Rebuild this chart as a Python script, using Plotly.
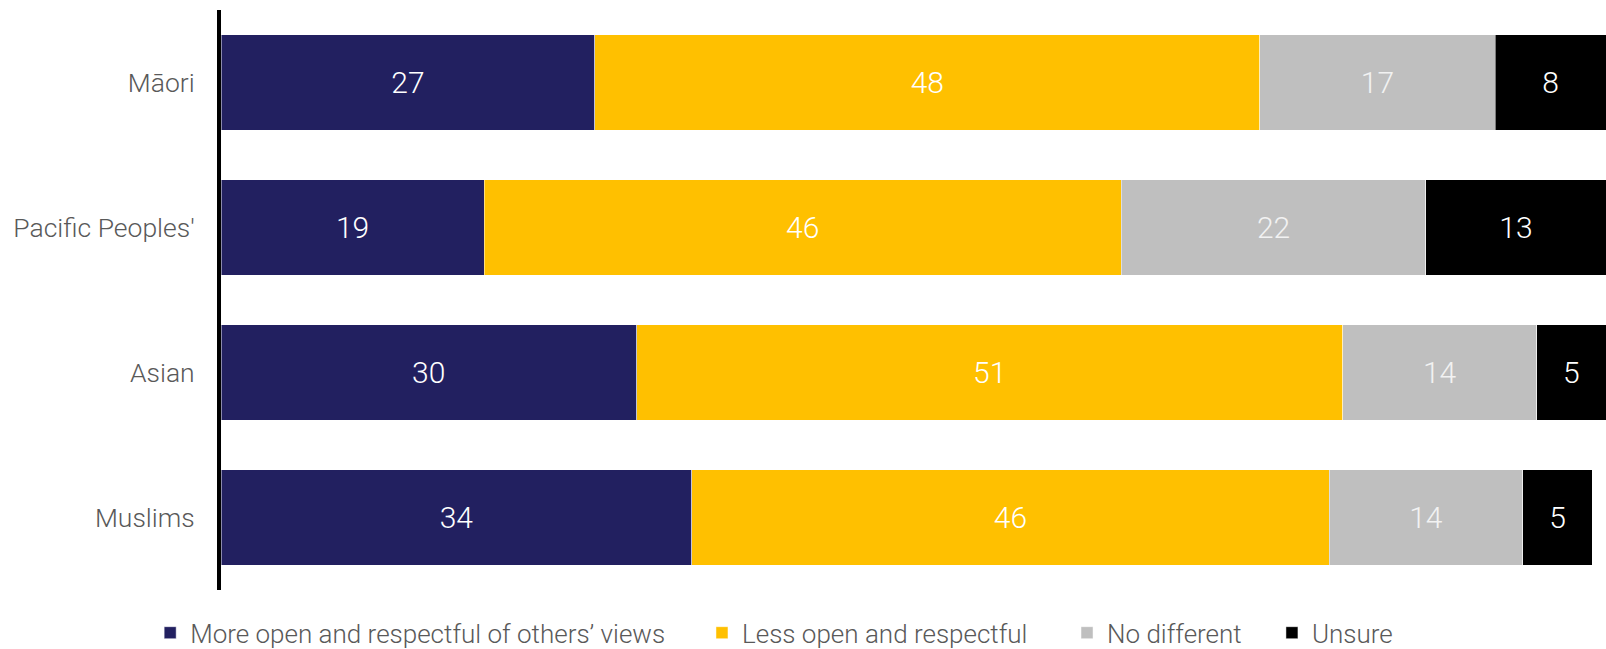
import plotly.graph_objects as go

# Survey groups (top to bottom) and response shares in percent
groups = ["Māori", "Pacific Peoples'", "Asian", "Muslims"]
series_names = [
    "More open and respectful of others’ views",
    "Less open and respectful",
    "No different",
    "Unsure",
]
more_open = [27, 19, 30, 34]
less_open = [48, 46, 51, 46]
no_different = [17, 22, 14, 14]
unsure = [8, 13, 5, 5]

series_values = [more_open, less_open, no_different, unsure]
colors = ["#222060", "#FFC000", "#BFBFBF", "#000000"]
label_colors = ["#FFFFFF", "#FFFFFF", "#F2F2F2", "#FFFFFF"]

FONT = "Roboto"
legend_ids = ["legend", "legend2", "legend3", "legend4"]
# left edge of each legend entry, as a fraction of the page width
legend_x = [0.0935, 0.4371, 0.6644, 0.7920]

fig = go.Figure()
for name, vals, col, tcol, lid in zip(series_names, series_values, colors, label_colors, legend_ids):
    fig.add_trace(go.Bar(
        y=groups,
        x=vals,
        name=name,
        orientation="h",
        legend=lid,
        marker=dict(color=col, line=dict(color="rgba(255,255,255,0.6)", width=0.8)),
        text=[str(v) for v in vals],
        textposition="inside",
        insidetextanchor="middle",
        textangle=0,
        constraintext="none",
        textfont=dict(family=FONT, size=30, color=tcol, weight=300),
        hoverinfo="x+y+name",
    ))

legend_style = dict(
    orientation="h",
    xref="container",
    yref="container",
    xanchor="left",
    y=0.025,
    yanchor="middle",
    font=dict(family=FONT, size=26, color="#595959", weight=300),
    itemclick=False,
    bgcolor="rgba(0,0,0,0)",
)

layout_legends = {}
for lid, lx in zip(legend_ids, legend_x):
    layout_legends[lid] = dict(legend_style, x=lx)

fig.update_layout(
    barmode="stack",
    bargap=0.34,
    width=1606,
    height=649,
    margin=dict(l=221, r=0, t=10, b=59),
    paper_bgcolor="white",
    plot_bgcolor="white",
    font=dict(family=FONT, color="#595959", weight=300),
    xaxis=dict(
        range=[0, 100],
        visible=False,
        fixedrange=True,
    ),
    yaxis=dict(
        autorange="reversed",
        showline=True,
        linecolor="#000000",
        linewidth=4,
        showgrid=False,
        ticks="",
        ticklabelstandoff=17,
        tickfont=dict(family=FONT, size=26.5, color="#595959", weight=300),
    ),
    showlegend=True,
    **layout_legends,
)

fig.write_html("out.html")
